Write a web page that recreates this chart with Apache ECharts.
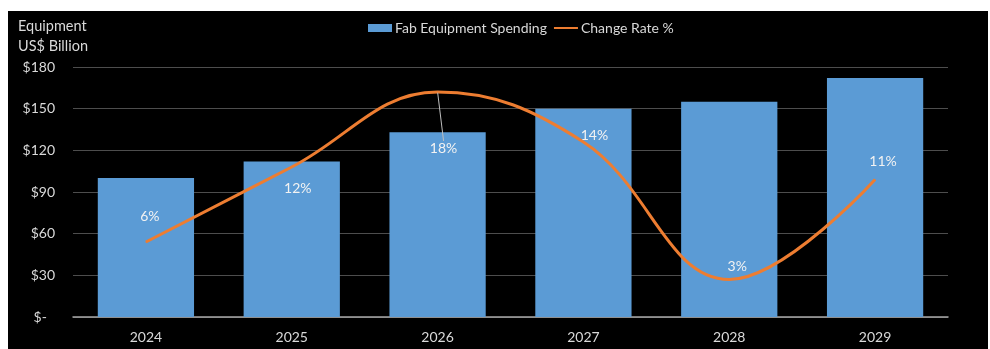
<!DOCTYPE html>
<html>
<head>
<meta charset="utf-8">
<script src="https://cdn.jsdelivr.net/npm/echarts@6/dist/echarts.min.js"></script>
<style>
  html, body { margin: 0; padding: 0; background: #ffffff; }
  #chart { position: absolute; left: 8px; top: 11px; width: 980px; height: 338px; background: #000000; }
</style>
</head>
<body>
<div id="chart"></div>
<script>
// Fab equipment spending (US$ billion) and year-over-year change
const years = ['2024', '2025', '2026', '2027', '2028', '2029'];
const spending = [100, 112, 133, 150, 155, 172];
const changeRate = [6, 12, 18, 14, 3, 11];
const spendTicks = [0, 30, 60, 90, 120, 150, 180];

// nudges [dx, dy] for each rate label, measured from its point
const rateLabelNudge = [[4, -26], [6, 21], [6, 56], [11, -7], [8, -13], [8, -18]];

const FONT = 'Lato, "Open Sans", sans-serif';
const TEXT = '#d9d9d9';

const chart = echarts.init(document.getElementById('chart'), null, { renderer: 'canvas' });

chart.setOption({
  backgroundColor: '#000000',
  animation: false,
  textStyle: { fontFamily: FONT },
  title: {
    text: 'Equipment\nUS$ Billion',
    left: 5,
    top: 0,
    textStyle: { color: TEXT, fontSize: 14.5, fontWeight: 'normal', lineHeight: 20, fontFamily: FONT }
  },
  legend: {
    left: 355,
    top: 5,
    itemWidth: 24,
    itemHeight: 8,
    itemGap: 6,
    textStyle: { color: TEXT, fontSize: 14, fontFamily: FONT, padding: [0, 0, 0, -2] },
    data: [
      { name: 'Fab Equipment Spending', icon: 'rect' },
      { name: 'Change Rate %', itemStyle: { opacity: 0 }, lineStyle: { width: 2 } }
    ]
  },
  grid: { left: 65, right: 40, top: 56, bottom: 32, containLabel: false },
  xAxis: {
    type: 'category',
    data: years,
    axisTick: { show: false },
    axisLine: { lineStyle: { color: '#a6a6a6', width: 1.5 } },
    axisLabel: { color: TEXT, fontSize: 14, margin: 13, fontFamily: FONT }
  },
  yAxis: [
    {
      type: 'value',
      min: spendTicks[0],
      max: spendTicks[spendTicks.length - 1],
      interval: spendTicks[1] - spendTicks[0],
      axisLine: { show: false },
      axisTick: { show: false },
      splitLine: { lineStyle: { color: '#4d4d4d', width: 1.2 } },
      axisLabel: {
        color: TEXT,
        fontSize: 14,
        margin: 18,
        fontFamily: FONT,
        // accounting-style zero: dash followed by a figure space
        formatter: v => (v === 0 ? '$-\u2007' : '$' + v)
      }
    },
    {
      type: 'value',
      min: 0,
      max: 20,
      show: false,
      splitLine: { show: false }
    }
  ],
  series: [
    {
      name: 'Fab Equipment Spending',
      type: 'bar',
      data: spending,
      barWidth: '66%',
      itemStyle: { color: '#5b9bd5' },
      z: 2
    },
    {
      name: 'Change Rate %',
      type: 'line',
      yAxisIndex: 1,
      smooth: 0.4,
      data: changeRate.map((v, i) => (i === 2
        ? { value: v, labelLine: { show: true } }
        : { value: v })),
      symbol: 'circle',
      symbolSize: 1,
      itemStyle: { color: '#ed7d31' },
      lineStyle: { color: '#ed7d31', width: 3 },
      label: {
        show: true,
        position: 'inside',
        color: '#f2f2f2',
        fontSize: 14,
        fontFamily: FONT,
        formatter: p => p.value + '%'
      },
      labelLine: {
        show: false,
        lineStyle: { color: '#bfbfbf', width: 1 }
      },
      labelLayout: p => ({ dx: rateLabelNudge[p.dataIndex][0], dy: rateLabelNudge[p.dataIndex][1] }),
      z: 3
    }
  ]
});
</script>
</body>
</html>
